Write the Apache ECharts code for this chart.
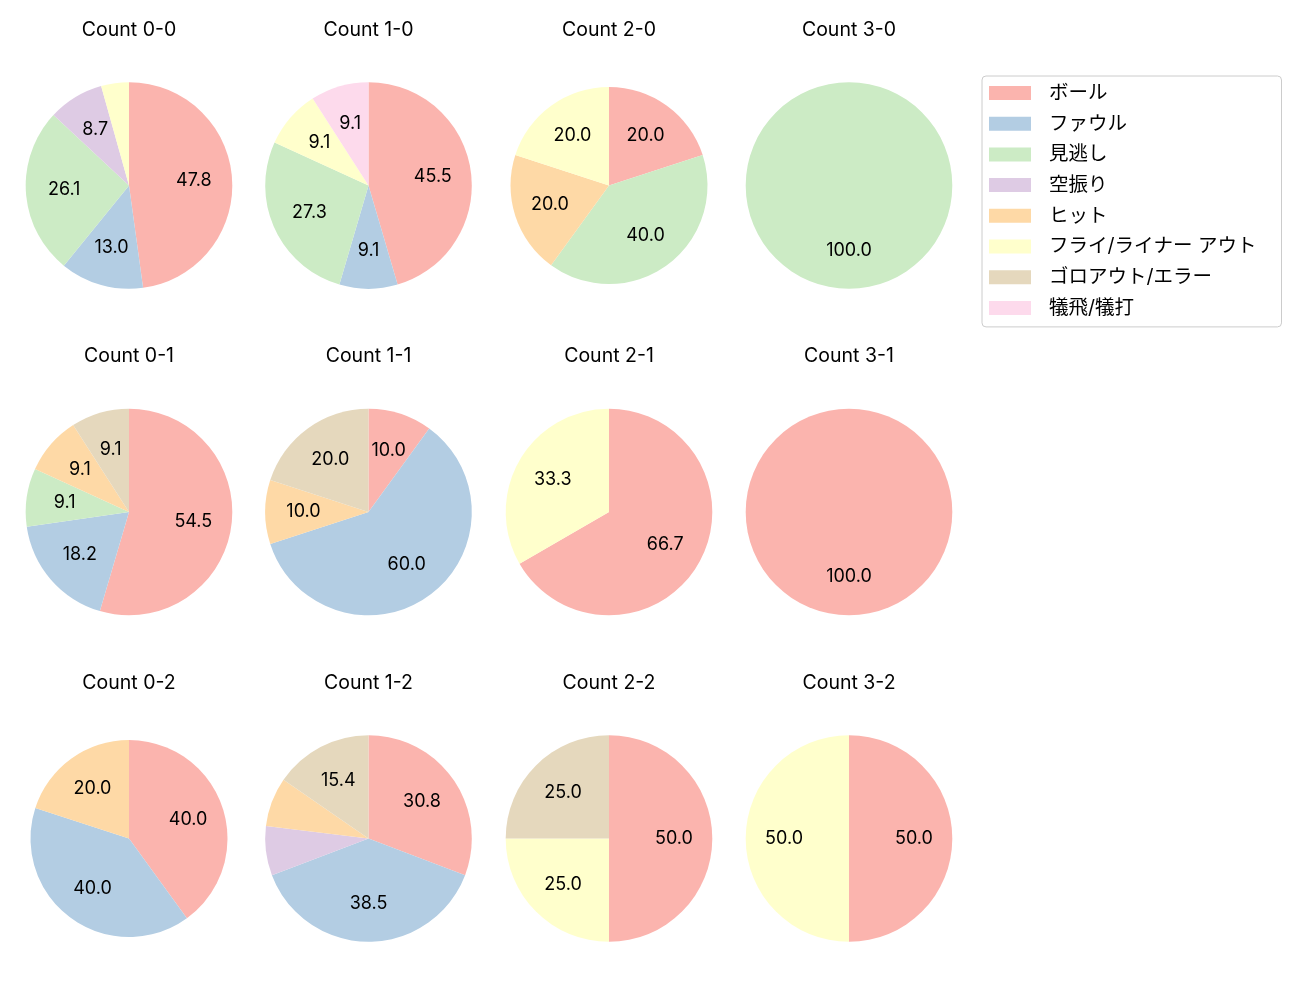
<!DOCTYPE html>
<html>
<head>
<meta charset="utf-8">
<script src="https://cdn.jsdelivr.net/npm/echarts@6/dist/echarts.min.js"></script>
<style>html,body{margin:0;padding:0;background:#fff;}#main{width:1300px;height:1000px;}</style>
</head>
<body>
<div id="main"></div>
<script>
// ---- data ----
const categories = ['ボール','ファウル','見逃し','空振り','ヒット','フライ/ライナー アウト','ゴロアウト/エラー','犠飛/犠打'];
const countTitles = ['Count 0-0','Count 1-0','Count 2-0','Count 3-0','Count 0-1','Count 1-1','Count 2-1','Count 3-1','Count 0-2','Count 1-2','Count 2-2','Count 3-2'];
// counts per category (same order as categories)
const c00 = [11,3,6,2,0,1,0,0];
const c10 = [5,1,3,0,0,1,0,1];
const c20 = [1,0,2,0,1,1,0,0];
const c30 = [0,0,1,0,0,0,0,0];
const c01 = [6,2,1,0,1,0,1,0];
const c11 = [1,6,0,0,1,0,2,0];
const c21 = [2,0,0,0,0,1,0,0];
const c31 = [1,0,0,0,0,0,0,0];
const c02 = [2,2,0,0,1,0,0,0];
const c12 = [4,5,0,1,1,0,2,0];
const c22 = [2,0,0,0,0,1,1,0];
const c32 = [1,0,0,0,0,1,0,0];
const allCounts = [c00,c10,c20,c30,c01,c11,c21,c31,c02,c12,c22,c32];

// ---- styling / layout ----
const colors = ['#fbb4ae','#b3cde3','#ccebc5','#decbe4','#fed9a6','#ffffcc','#e5d8bd','#fddaec'];
const colX = [129, 368.5, 609, 849];
const rowY = [185.5, 512, 838.5];
const radii = [103.3,103.3,98.5,103.3, 103.3,103.3,103.3,103.3, 98.5,103.3,103.3,103.3];
const FONT = 'Inter, "Noto Sans CJK JP", sans-serif';

const series = [];
const titles = [];
allCounts.forEach((arr, i) => {
  const cx = colX[i % 4], cy = rowY[Math.floor(i / 4)], r = radii[i];
  const total = arr.reduce((a, b) => a + b, 0);
  const data = [];
  arr.forEach((v, k) => { if (v > 0) data.push({name: categories[k], value: v, itemStyle: {color: colors[k]}}); });
  series.push({
    type: 'pie', center: [cx, cy], radius: [0, r], startAngle: 90, clockwise: true,
    silent: true, label: {show: false}, labelLine: {show: false},
    itemStyle: {borderWidth: 0}, data: data, animation: false
  });
  series.push({
    type: 'pie', center: [cx, cy], radius: [0, r * 1.2], startAngle: 90, clockwise: true,
    silent: true, legendHoverLink: false,
    itemStyle: {color: 'rgba(0,0,0,0)', borderWidth: 0},
    label: {
      show: true, position: 'inside', color: '#000', fontSize: 18, fontFamily: FONT,
      formatter: p => { const pct = p.value / total * 100; return pct < 8 ? '' : pct.toFixed(1); }
    },
    labelLine: {show: false},
    data: data.map(d => ({name: d.name, value: d.value})), animation: false
  });
  titles.push({
    text: countTitles[i], left: cx, top: cy - 165.5, textAlign: 'center', padding: 0,
    textStyle: {fontSize: 19.5, fontWeight: 'normal', color: '#000', fontFamily: FONT}
  });
});

const chart = echarts.init(document.getElementById('main'), null, {renderer: 'canvas'});
chart.setOption({
  animation: false,
  title: titles,
  legend: {
    orient: 'vertical', left: 982, top: 76,
    data: categories.map((c, k) => ({name: c, icon: 'rect', itemStyle: {color: colors[k]}})),
    itemWidth: 42, itemHeight: 14, itemGap: 10.7,
    padding: [7, 25, 9, 7],
    borderColor: '#cccccc', borderWidth: 1, borderRadius: 4,
    selectedMode: false,
    textStyle: {fontSize: 19.5, fontFamily: FONT, color: '#000', lineHeight: 20, padding: [0, 0, 0, 13]}
  },
  series: series
});
</script>
</body>
</html>
